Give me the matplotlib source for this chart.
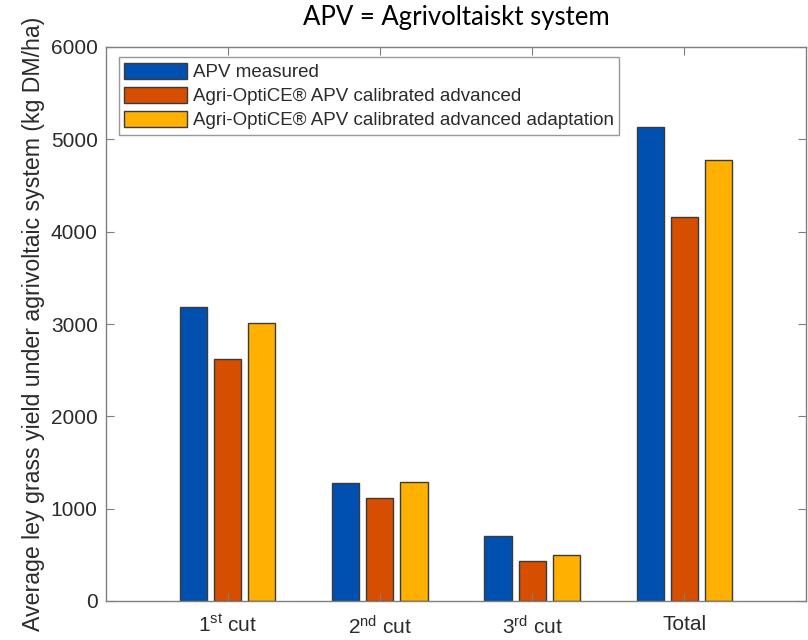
import numpy as np
import matplotlib
matplotlib.use('Agg')
import matplotlib.pyplot as plt

plt.rcParams['font.family'] = ['Liberation Sans', 'DejaVu Sans']
plt.rcParams['mathtext.fontset'] = 'custom'
plt.rcParams['mathtext.rm'] = 'Liberation Sans'
plt.rcParams['mathtext.it'] = 'Liberation Sans:italic'

categories = [r'1$^{\mathrm{st}}$ cut', r'2$^{\mathrm{nd}}$ cut', r'3$^{\mathrm{rd}}$ cut', 'Total']
series_names = ['APV measured',
                'Agri-OptiCE® APV calibrated advanced',
                'Agri-OptiCE® APV calibrated advanced adaptation']
apv_measured = [3180, 1275, 705, 5135]
calibrated_advanced = [2620, 1115, 435, 4155]
advanced_adaptation = [3010, 1285, 500, 4775]
yticks = [0, 1000, 2000, 3000, 4000, 5000, 6000]

colors = ['#0050B0', '#D64E00', '#FFB000']
edge = '#3a3a3a'
axis_gray = '#7f7f7f'
text_gray = '#2b2b2b'

fig = plt.figure(figsize=(8.08, 6.4), dpi=100)
ax = fig.add_axes([106/808, 1-601/640, 700/808, 554/640])

x = np.arange(1, len(categories)+1)
width = 0.178
offset = 0.224
for i, (vals, name) in enumerate(zip([apv_measured, calibrated_advanced, advanced_adaptation], series_names)):
    ax.bar(x + (i-1)*offset, vals, width, color=colors[i], edgecolor=edge, linewidth=1.0, label=name)

ax.set_xlim(0.2, 4.8)
ax.set_ylim(0, 6000)
ax.set_xticks(x)
ax.set_xticklabels(categories)
ax.set_yticks(yticks)
ax.tick_params(direction='in', length=6, width=0.8, colors=axis_gray, labelcolor=text_gray,
               labelsize=15, top=True, right=True)
ax.tick_params(axis='y', pad=6)
ax.tick_params(axis='x', pad=10)
for s in ax.spines.values():
    s.set_color(axis_gray)
    s.set_linewidth(1.0)

ax.set_ylabel('Average ley grass yield under agrivoltaic system (kg DM/ha)', fontsize=16.7, color=text_gray, labelpad=4)

leg = ax.legend(loc='upper left', bbox_to_anchor=(0.018, 0.982), fontsize=13.5, frameon=True, fancybox=False,
                handlelength=3.35, handleheight=0.95, labelspacing=0.3, borderpad=0.3, handletextpad=0.3,
                borderaxespad=0)
leg.get_frame().set_edgecolor(axis_gray)
leg.get_frame().set_linewidth(1.0)
for t in leg.get_texts():
    t.set_color(text_gray)

fig.text(456/808, 1-18/640, 'APV = Agrivoltaiskt system', ha='center', va='center', fontsize=18.5,
         family=['Lato', 'DejaVu Sans'], color='black')

fig.savefig('out.png', dpi=100)
